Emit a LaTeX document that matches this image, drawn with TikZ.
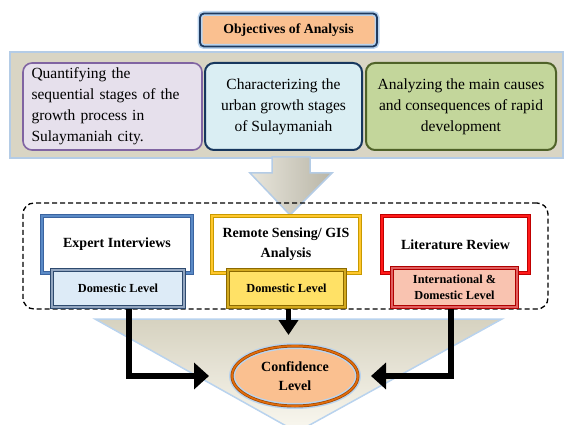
\documentclass[tikz,border=0pt]{standalone}
\usepackage{fontspec}
\setmainfont{Liberation Serif}
\usetikzlibrary{shapes.geometric,arrows.meta,positioning}

\definecolor{titlefill}{HTML}{FAC090}
\definecolor{titleline}{HTML}{1F3A5F}
\definecolor{glow}{HTML}{B9D3EE}
\definecolor{bannerfill}{HTML}{D9D5C4}
\definecolor{bannerline}{HTML}{B4CCE6}
\definecolor{purplefill}{HTML}{E6E0EC}
\definecolor{purpleline}{HTML}{8064A2}
\definecolor{bluefill}{HTML}{DAEEF3}
\definecolor{blueline}{HTML}{17375E}
\definecolor{greenfill}{HTML}{C3D69B}
\definecolor{greenline}{HTML}{4F6228}
\definecolor{expdark}{HTML}{3B64A0}
\definecolor{explight}{HTML}{5A8AC6}
\definecolor{rsdark}{HTML}{C89A00}
\definecolor{rslight}{HTML}{FFC72C}
\definecolor{litdark}{HTML}{C00000}
\definecolor{litlight}{HTML}{FF1A1A}
\definecolor{expsub}{HTML}{DDEBF7}
\definecolor{expsubline}{HTML}{2E4A6E}
\definecolor{expsubin}{HTML}{93A6C0}
\definecolor{rssub}{HTML}{FFE166}
\definecolor{rssubline}{HTML}{8C6A00}
\definecolor{rssubin}{HTML}{D4AA20}
\definecolor{litsub}{HTML}{F9C3B0}
\definecolor{litsubline}{HTML}{B00000}
\definecolor{litsubin}{HTML}{E06060}
\definecolor{confline}{HTML}{E46C0A}
\definecolor{confdark}{HTML}{984807}
\definecolor{tritop}{HTML}{D6D2C0}
\definecolor{tribottom}{HTML}{FAF8F0}

\begin{document}
\begin{tikzpicture}[x=1pt, y=-1pt,
    objbox/.style={rectangle, rounded corners=9pt, line width=1.6pt, minimum height=87pt, inner sep=0pt, font=\fontsize{15.5}{21}\selectfont},
    frame/.style 2 args={draw=#1, line width=4.5pt, postaction={draw=#2, line width=1.8pt}},
    method/.style={rectangle, fill=white, minimum width=150pt, minimum height=57pt, inner sep=0pt, align=center, font=\fontsize{14}{20}\selectfont\bfseries},
    level/.style={rectangle, minimum height=37pt, inner sep=0pt, align=center, font=\fontsize{12.3}{16}\selectfont\bfseries},
    flow/.style={line width=6pt, -{Triangle[length=15pt,width=26pt]}},
]
    \useasboundingbox (0,0) rectangle (565,425);

    % Objectives
    \node[rectangle, rounded corners=4pt, fill=titlefill, draw=glow, line width=5pt,
          postaction={draw=titleline, line width=1.8pt},
          minimum width=177pt, minimum height=33pt, font=\fontsize{13.8}{17}\selectfont\bfseries]
          (title) at (288.5,30) {Objectives of Analysis};

    \node[rectangle, fill=bannerfill, draw=bannerline, line width=2pt,
          minimum width=553pt, minimum height=106pt] (banner) at (286.5,105) {};

    \node[objbox, fill=purplefill, draw=purpleline, minimum width=179pt, text width=162pt, align=left]
          (quant) at (112.5,106.5) {Quantifying the\\sequential stages of the\\growth process in\\Sulaymaniah city.};
    \node[objbox, fill=bluefill, draw=blueline, line width=2pt, minimum width=157pt, align=center]
          (charac) at (283.5,106.5) {Characterizing the\\urban growth stages\\of Sulaymaniah};
    \node[objbox, fill=greenfill, draw=greenline, line width=2pt, minimum width=190pt, align=center]
          (causes) at (461,106.5) {Analyzing the main causes\\and consequences of rapid\\development};

    % Big arrow down
    \draw[bannerline, line width=1.5pt, left color=white!40!bannerfill, right color=bannerfill!85!black]
        (272,157) -- (310,157) -- (310,173) -- (332,173) -- (290,215) -- (250,173) -- (272,173) -- cycle;

    % Methods
    \node[draw, dashed, dash pattern=on 5pt off 3pt, line width=1.3pt, rounded corners=11pt,
          minimum width=525pt, minimum height=106pt] (group) at (285.5,256) {};

    \node[method, frame={expdark}{explight}] (expert) at (117,244.5) {Expert Interviews};
    \node[method, frame={rsdark}{rslight}, minimum width=148pt] (remote) at (286,244.5) {Remote Sensing/ GIS\\Analysis};
    \node[method, frame={litdark}{litlight}, minimum width=147pt] (review) at (455.5,244.5) {Literature Review};

    \node[level, fill=expsub, draw=expsubline, line width=3.5pt, postaction={draw=expsubin, line width=1.2pt},
          minimum width=132pt] (expertlvl) at (118,288.5) {Domestic Level};
    \node[level, fill=rssub, draw=rssubline, line width=3.5pt, postaction={draw=rssubin, line width=1.2pt},
          minimum width=117pt] (remotelvl) at (286.5,288.5) {Domestic Level};
    \node[level, fill=litsub, draw=litsubline, line width=3.5pt, postaction={draw=litsubin, line width=1.2pt},
          minimum width=125pt, minimum height=39pt] (reviewlvl) at (454.5,287.5) {International \&\\Domestic Level};

    % Confidence
    \fill[top color=tritop, bottom color=tribottom] (95,319) -- (502,319) -- (297,432) -- cycle;
    \draw[glow, line width=1.5pt] (95,319) -- (502,319) -- (297,432) -- cycle;

    \node[ellipse, fill=titlefill, draw=glow, line width=6pt,
          postaction={draw=confdark, line width=3pt}, postaction={draw=confline, line width=1.6pt},
          minimum width=126pt, minimum height=60pt, inner sep=0pt, align=center,
          font=\fontsize{14}{19}\selectfont\bfseries] (conf) at (295,376) {Confidence\\Level};

    \coordinate (inL) at (128.5,309);
    \coordinate (inM) at (288.5,309);
    \coordinate (inR) at (451,309);

    \draw[flow, shorten >=20pt] (inL) |- (conf.west);
    \draw[flow, line width=5pt, -{Triangle[length=15pt,width=19pt]}, shorten >=8pt] (inM) -- (inM |- conf.north);
    \draw[flow, shorten >=10pt] (inR) |- (conf.east);

\end{tikzpicture}
\end{document}
